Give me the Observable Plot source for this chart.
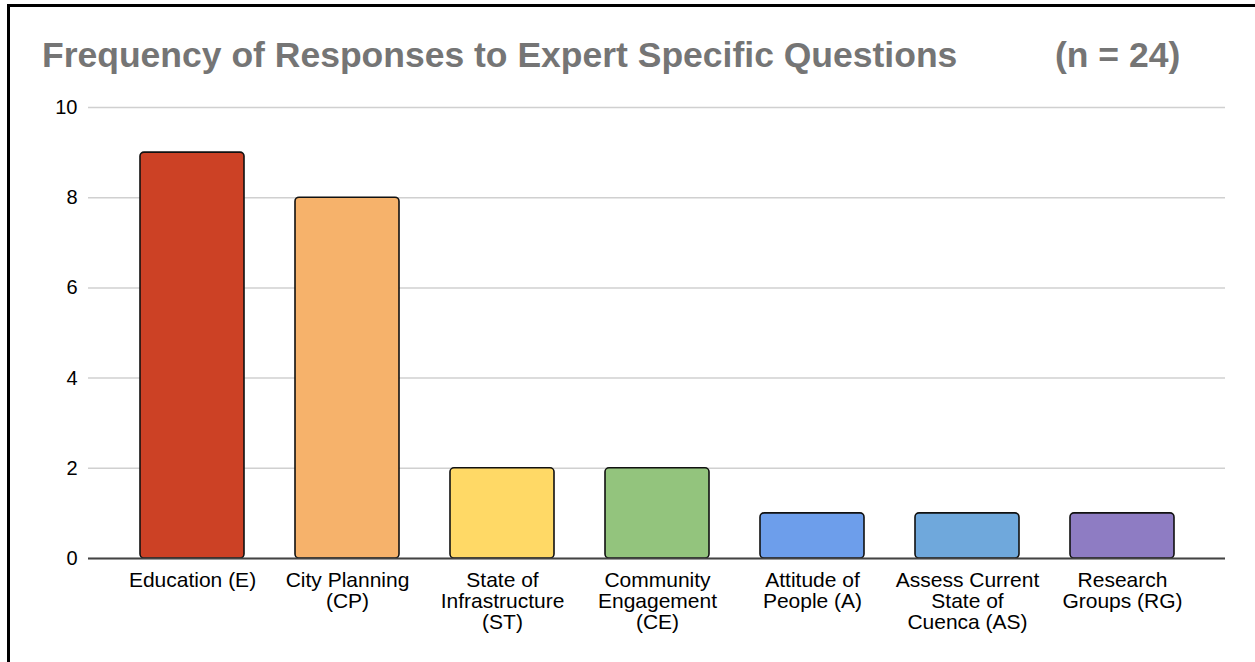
<!DOCTYPE html>
<html>
<head>
<meta charset="utf-8">
<script src="https://cdn.jsdelivr.net/npm/d3@7"></script>
<script src="https://cdn.jsdelivr.net/npm/@observablehq/plot@0.6"></script>
<style>
  html, body { margin: 0; padding: 0; background: #fff; overflow: hidden; }
  body { width: 1255px; height: 662px; position: relative; font-family: "Liberation Sans", Arial, sans-serif; }
  #frame { position: absolute; left: 7px; top: 4px; right: -10px; bottom: -10px; border-top: 3px solid #000; border-left: 3px solid #000; pointer-events: none; z-index: 2; }
  #header { position: relative; height: 90px; }
  .title { position: absolute; top: 38px; font-size: 35.5px; line-height: 35px; font-weight: bold; color: #757575; white-space: pre; }
  #chart svg { display: block; }
</style>
</head>
<body>
<div id="frame"></div>
<div id="header">
  <div class="title" style="left:42px">Frequency of Responses to Expert Specific Questions</div>
  <div class="title" style="left:1055px">(n = 24)</div>
</div>
<div id="chart"></div>
<script>
const categories = [
  "Education (E)",
  "City Planning\n(CP)",
  "State of\nInfrastructure\n(ST)",
  "Community\nEngagement\n(CE)",
  "Attitude of\nPeople (A)",
  "Assess Current\nState of\nCuenca (AS)",
  "Research\nGroups (RG)"
];
const counts = [9, 8, 2, 2, 1, 1, 1];
const barColors = ["#cc4125", "#f6b26b", "#ffd966", "#93c47d", "#6d9eeb", "#6fa8dc", "#8e7cc3"];
const yTicks = [0, 2, 4, 6, 8, 10];

const data = categories.map((c, i) => ({category: c, count: counts[i], color: barColors[i]}));

const chart = Plot.plot({
  width: 1255,
  height: 572,
  marginTop: 17,
  marginBottom: 104,
  marginLeft: 88,
  marginRight: 30,
  style: {fontFamily: "'Liberation Sans', Arial, sans-serif", fontSize: "20px", color: "#000", background: "transparent"},
  x: {domain: categories, padding: 0.332, label: null},
  y: {domain: [0, 10], ticks: yTicks, label: null},
  marks: [
    Plot.gridY(yTicks, {stroke: "#d0d0d0", strokeOpacity: 1, strokeWidth: 1.5}),
    Plot.barY(data, {x: "category", y: "count", fill: "color", stroke: "#111", strokeWidth: 1.6, rx: 4}),
    Plot.ruleY([0], {stroke: "#444", strokeWidth: 1.8}),
    Plot.axisY(yTicks, {tickSize: 0, tickPadding: 11, fontSize: 20, fill: "#000", label: null}),
    Plot.axisX({tickSize: 0, tickPadding: 14, fontSize: 21, lineHeight: 1.0, fill: "#000", label: null})
  ]
});
document.getElementById("chart").appendChild(chart);
</script>
</body>
</html>
